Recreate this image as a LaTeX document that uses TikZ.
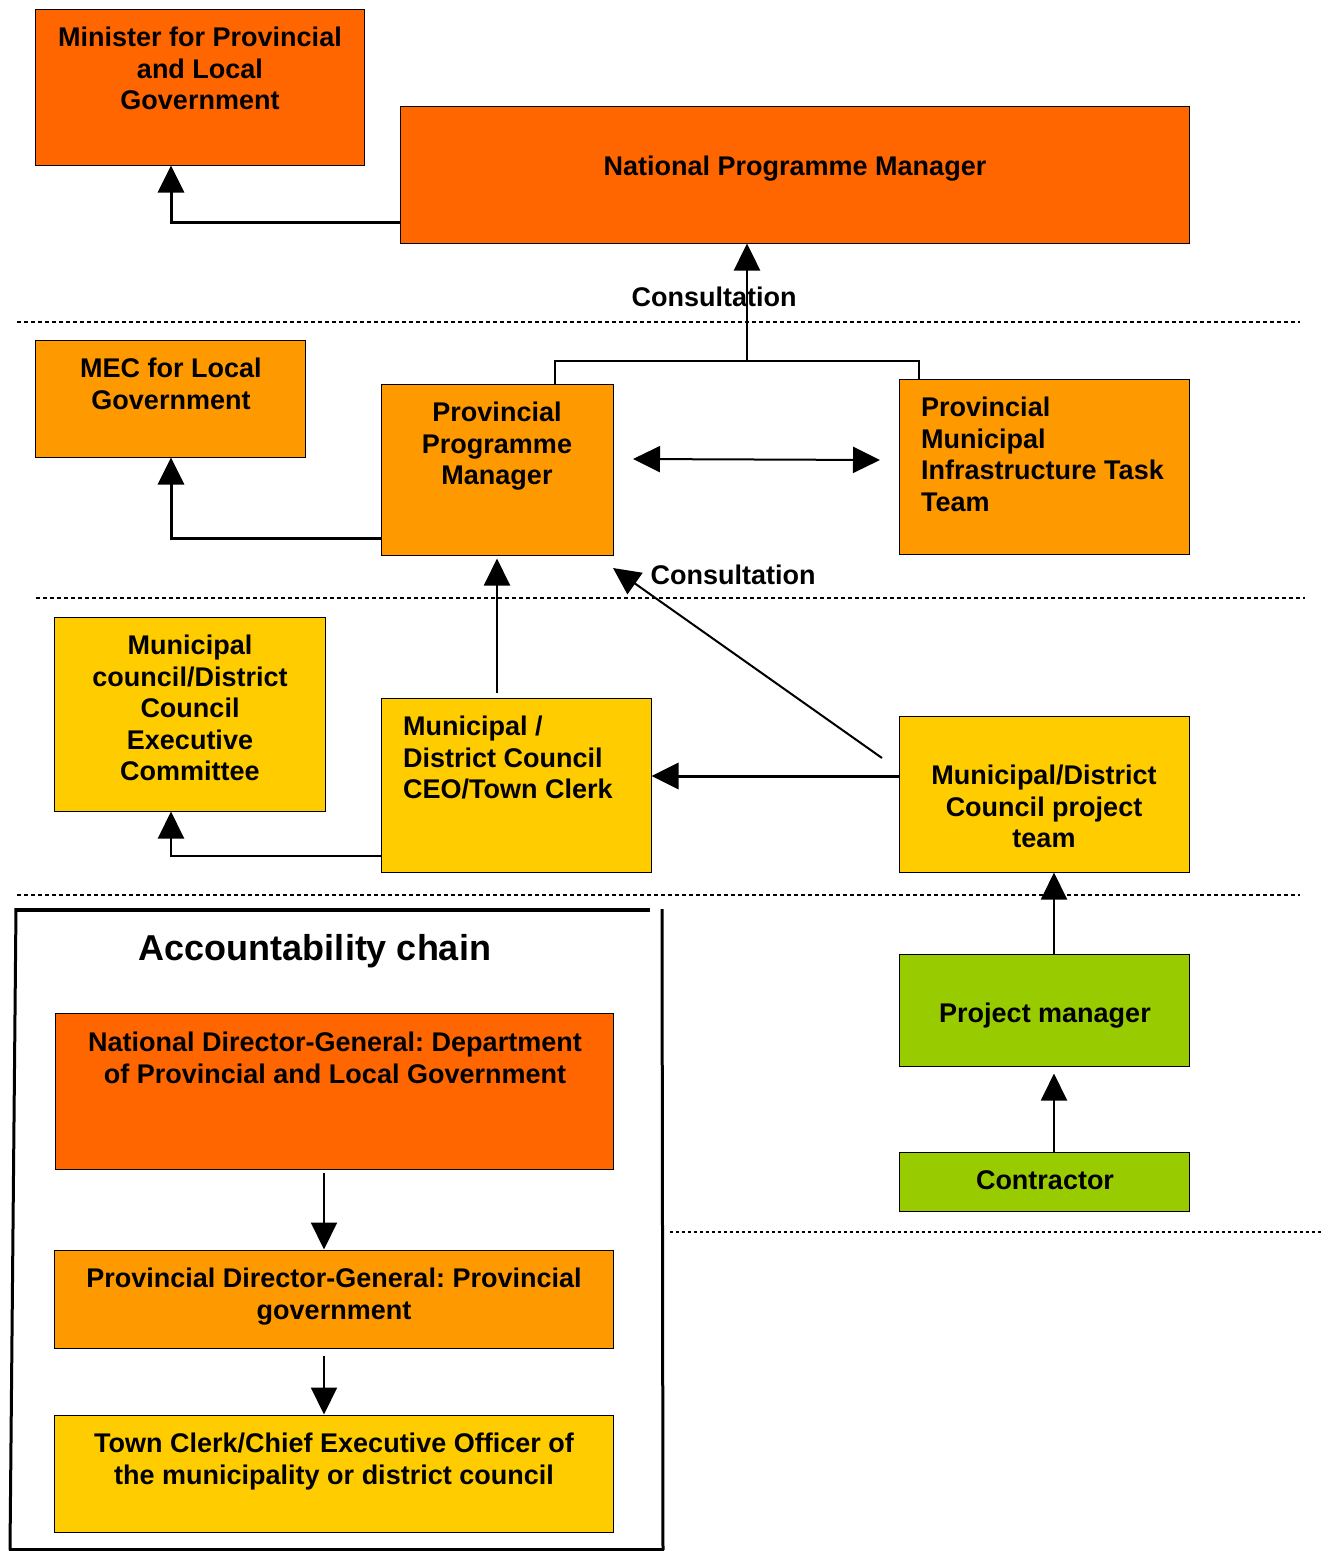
\documentclass[tikz,border=0pt]{standalone}
\usepackage{fontspec}
\setmainfont{Liberation Sans}
\usetikzlibrary{arrows.meta,calc}
\definecolor{orA}{HTML}{FF6600}
\definecolor{orB}{HTML}{FF9900}
\definecolor{yel}{HTML}{FFCC00}
\definecolor{grn}{HTML}{99CC00}
\newcommand\mybox[6]{\node[box, fill=#6, minimum width={#4-#2}, minimum height={#5-#3}] (#1) at ({(#2+#4)/2},{(#3+#5)/2}) {};}
\frenchspacing
\begin{document}
\begin{tikzpicture}[x=1pt,y=-1pt,
  box/.style={draw=black, line width=1pt, inner sep=0pt, rectangle},
  txt/.style={font=\bfseries\fontsize{27}{31.5}\selectfont, inner sep=0pt, align=center, anchor=north},
  ltxt/.style={txt, align=left, anchor=north west},
  tip/.style={-{Triangle[length=27pt,width=26pt]}},
  arr/.style={line width=2.5pt, tip},
  dotline/.style={line width=2.8pt, dash pattern=on 4pt off 3pt}]
\useasboundingbox (0,0) rectangle (1330,1551);
\fill[white] (0,0) rectangle (1330,1551);
% dotted separators
\draw[dotline] (17,322) -- (1300,322);
\draw[dotline] (36,598) -- (1305,598);
\draw[dotline] (17,895) -- (1300,895);
\draw[line width=1.8pt, dash pattern=on 3pt off 3pt] (670,1232) -- (1322,1232);
% boxes
\mybox{minister}{35}{9}{364}{165}{orA}
\mybox{npm}{400}{106}{1189}{243}{orA}
\mybox{mec}{35}{340}{305}{457}{orB}
\mybox{ppm}{381}{384}{613}{555}{orB}
\mybox{pmitt}{899}{379}{1189}{554}{orB}
\mybox{exec}{54}{617}{325}{811}{yel}
\mybox{ceo}{381}{698}{651}{872}{yel}
\mybox{pt}{899}{716}{1189}{872}{yel}
\mybox{pm}{899}{954}{1189}{1066}{grn}
\mybox{con}{899}{1152}{1189}{1211}{grn}
\mybox{ndg}{55}{1013}{613}{1169}{orA}
\mybox{pdg}{54}{1250}{613}{1348}{orB}
\mybox{tc}{54}{1415}{613}{1532}{yel}
% texts
\node[txt] (tminister) at (200,27) {Minister for Provincial\\and Local\\Government};
\node[txt] (tnpm) at (795,156) {National Programme Manager};
\node[txt] (tcons1) at (714,287) {Consultation};
\node[txt] (tmec) at (171,358) {MEC for Local\\Government};
\node[txt] (tppm) at (497,402) {Provincial\\Programme\\Manager};
\node[ltxt] (tpmitt) at (921,397) {Provincial\\Municipal\\Infrastructure Task\\Team};
\node[txt] (tcons2) at (733,565) {Consultation};
\node[txt] (texec) at (190,635) {Municipal\\council/District\\Council\\Executive\\Committee};
\node[ltxt] (tceo) at (403,716) {Municipal /\\District Council\\CEO/Town Clerk};
\node[txt] (tpt) at (1044,765) {Municipal/District\\Council project\\team};
\node[txt] (tpm) at (1045,1003) {Project manager};
\node[txt] (tcon) at (1045,1170) {Contractor};
\node[font=\bfseries\fontsize{36}{42}\selectfont, inner sep=0pt] (title) at (315,951) {Accountability chain};
\node[txt] (tndg) at (335,1032) {National Director-General: Department\\of Provincial and Local Government};
\node[txt] (tpdg) at (334,1268) {Provincial Director-General: Provincial\\government};
\node[txt] (ttc) at (334,1433) {Town Clerk/Chief Executive Officer of\\the municipality or district council};
% accountability frame
\draw[line width=4pt] (16,910) -- (650,910);
\draw[line width=3pt] (16,908) -- (10,1550);
\draw[line width=3pt] (9,1549) -- (664,1549);
\draw[line width=3pt] (662,909) -- (663,1550);
% connectors
\coordinate (k1) at (171,222);
\draw[arr, line width=3pt] (k1-|npm.west) -- (k1) -- (k1|-minister.south);
\coordinate (k2a) at (555,361);
\coordinate (k2b) at (919,361);
\coordinate (k2) at (747,361);
\draw[line width=2.5pt] (k2a|-ppm.north) -- (k2a) -- (k2b) -- (k2b|-pmitt.north);
\draw[arr] (k2) -- (k2|-npm.south);
\coordinate (k3) at (171,538);
\draw[arr, line width=3pt] (k3-|ppm.west) -- (k3) -- (k3|-mec.south);
\coordinate (k4a) at (633,459);
\coordinate (k4b) at (880,460);
\draw[line width=2pt, {Triangle[length=27pt,width=26pt]}-{Triangle[length=27pt,width=26pt]}] (k4a) -- (k4b);
\coordinate (k5) at (497,693);
\draw[arr, line width=2pt, shorten >=3pt] (k5) -- (k5|-ppm.south);
\coordinate (k6) at (882,758);
\coordinate (k6b) at (613,568);
\draw[line width=2pt, tip] (k6) -- (k6b);
\coordinate (k7) at (0,776);
\draw[arr, line width=3pt] (k7-|pt.west) -- (k7-|ceo.east);
\coordinate (k8) at (171,856);
\draw[arr, line width=2pt] (k8-|ceo.west) -- (k8) -- (k8|-exec.south);
\coordinate (k9) at (1054,954);
\draw[arr, line width=2pt] (k9) -- (k9|-pt.south);
\coordinate (k10) at (1054,1152);
\draw[arr, line width=2pt, shorten >=7pt] (k10) -- (k10|-pm.south);
\coordinate (k11) at (324,1173);
\draw[arr, line width=2pt] (k11) -- (k11|-pdg.north);
\coordinate (k12) at (324,1356);
\draw[arr, line width=2pt] (k12) -- (k12|-tc.north);
\end{tikzpicture}
\end{document}
